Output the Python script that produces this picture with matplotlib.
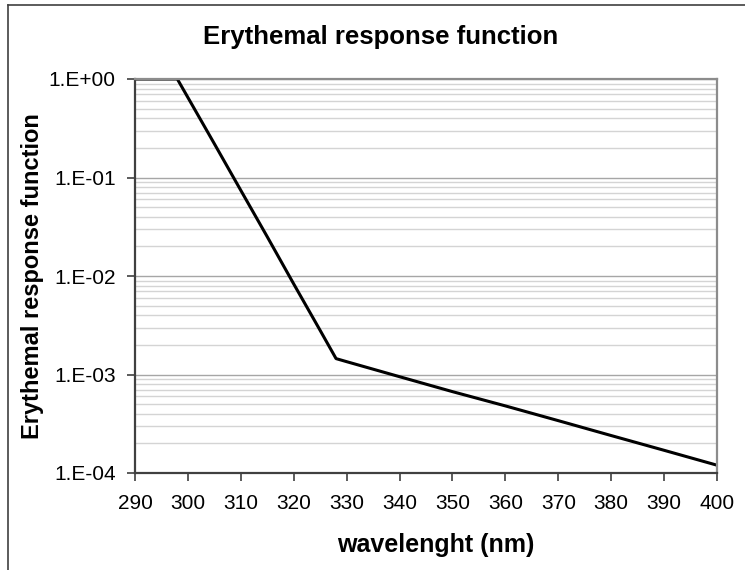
import numpy as np
import matplotlib
matplotlib.use("Agg")
import matplotlib.pyplot as plt
from matplotlib.lines import Line2D
from matplotlib.ticker import LogLocator, FixedLocator, FuncFormatter, NullFormatter

plt.rcParams['font.family'] = ['Liberation Sans', 'DejaVu Sans']

# erythemal action spectrum
wavelength = [290, 298, 305, 310, 315, 320, 325, 328, 330, 340, 350, 360, 370, 380, 390, 400]
response = [1.0, 1.0, 0.22, 0.074, 0.025, 0.0083, 0.0028, 0.00145, 0.00135, 0.00095,
            0.00067, 0.00048, 0.00034, 0.00024, 0.00017, 0.00012]

x_ticks = list(range(290, 401, 10))
y_ticks = [1e-4, 1e-3, 1e-2, 1e-1, 1e0]

fig = plt.figure(figsize=(7.45, 5.7), dpi=100)
ax = fig.add_axes([135 / 745, 1 - 473 / 570, 582 / 745, 394 / 570])

ax.plot(wavelength, response, color='black', lw=2.2, solid_joinstyle='round')

ax.set_yscale('log')
ax.set_xlim(290, 400)
ax.set_ylim(1e-4, 1)

ax.xaxis.set_major_locator(FixedLocator(x_ticks))
ax.yaxis.set_major_locator(FixedLocator(y_ticks))
ax.yaxis.set_minor_locator(LogLocator(base=10, subs=np.arange(2, 10)))
ax.yaxis.set_minor_formatter(NullFormatter())
ax.yaxis.set_major_formatter(FuncFormatter(lambda v, p: "1.E%+03d" % round(np.log10(v))))

ax.grid(True, which='major', axis='y', color='#a6a6a6', lw=1.0)
ax.grid(True, which='minor', axis='y', color='#d4d4d4', lw=1.0)
ax.set_axisbelow(True)

ax.tick_params(axis='both', which='major', direction='out', length=6, width=1.2,
               color='#404040', labelsize=15)
ax.tick_params(axis='y', which='minor', length=0)
ax.tick_params(axis='y', pad=8)
ax.tick_params(axis='x', pad=9)

for side in ('left', 'bottom'):
    ax.spines[side].set_color('#404040')
    ax.spines[side].set_linewidth(1.6)
for side in ('top', 'right'):
    ax.spines[side].set_color('#8c8c8c')
    ax.spines[side].set_linewidth(1.6)

fig.text(381 / 745, 1 - 44 / 570, 'Erythemal response function', ha='center', va='baseline',
         fontsize=18.5, fontweight='bold')
fig.text(436 / 745, 1 - 552 / 570, 'wavelenght (nm)', ha='center', va='baseline',
         fontsize=18, fontweight='bold')
fig.text(33 / 745, 1 - 276 / 570, 'Erythemal response function', ha='center', va='center',
         rotation=90, fontsize=17, fontweight='bold')

# chart border (top and left edges visible)
fig.add_artist(Line2D([8 / 745, 1.01], [1 - 5 / 570] * 2, transform=fig.transFigure,
                      color='#404040', lw=1.2))
fig.add_artist(Line2D([8 / 745] * 2, [-0.01, 1 - 5 / 570], transform=fig.transFigure,
                      color='#404040', lw=1.2))

fig.savefig('out.png', dpi=100)
